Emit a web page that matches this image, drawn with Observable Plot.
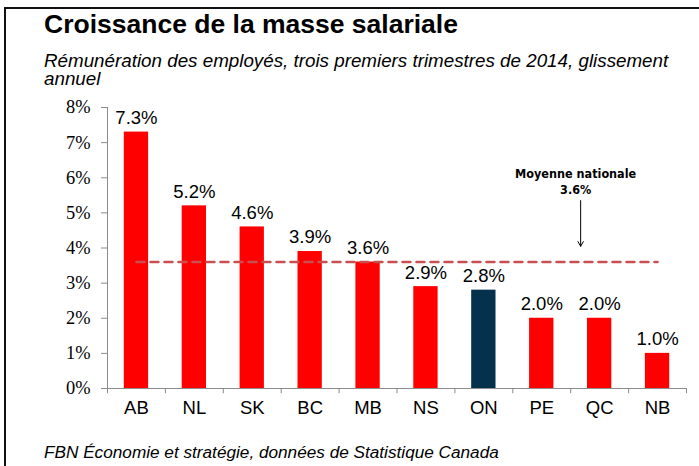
<!DOCTYPE html>
<html>
<head>
<meta charset="utf-8">
<script src="https://cdn.jsdelivr.net/npm/d3@7"></script>
<script src="https://cdn.jsdelivr.net/npm/@observablehq/plot@0.6"></script>
<style>
  html, body { margin: 0; padding: 0; background: #fff; }
  #wrap { position: relative; width: 699px; height: 466px; overflow: hidden; font-family: "Liberation Sans", Arial, sans-serif; }
  #frame { position: absolute; left: 4px; top: 7px; width: 720px; height: 480px; border-top: 2px solid #111; border-left: 2px solid #111; }
  #title { position: absolute; left: 44px; top: 8px; font-size: 26.5px; line-height: 32px; font-weight: bold; color: #000; white-space: nowrap; }
  #subtitle { position: absolute; left: 44px; top: 52px; width: 640px; font-size: 18.8px; line-height: 18px; font-style: italic; color: #000; }
  #caption { position: absolute; left: 44px; top: 442px; font-size: 17.2px; line-height: 20px; font-style: italic; color: #000; white-space: nowrap; }
  #chart { position: absolute; left: 0; top: 90px; }
</style>
</head>
<body>
<div id="wrap">
  <div id="frame"></div>
  <div id="title">Croissance de la masse salariale</div>
  <div id="subtitle">Rémunération des employés, trois premiers trimestres de 2014, glissement annuel</div>
  <div id="chart"></div>
  <div id="caption">FBN Économie et stratégie, données de Statistique Canada</div>
</div>
<script>
const categories = ["AB", "NL", "SK", "BC", "MB", "NS", "ON", "PE", "QC", "NB"];
const values = [7.3, 5.2, 4.6, 3.9, 3.6, 2.9, 2.8, 2.0, 2.0, 1.0];
const highlighted = ["ON"];
const nationalAverage = 3.6;
const yTicks = [0, 1, 2, 3, 4, 5, 6, 7, 8];
const annotationLines = ["Moyenne nationale", "3.6%"];

const data = categories.map((c, i) => ({cat: c, value: values[i]}));

const W = 699, H = 340, ML = 107, MR = 13, MT = 17, MB = 42;
const step = (W - ML - MR) / categories.length;

const chart = Plot.plot({
  width: W,
  height: H,
  marginLeft: ML,
  marginRight: MR,
  marginTop: MT,
  marginBottom: MB,
  style: {background: "transparent", overflow: "visible"},
  x: {domain: categories, paddingInner: 0.58, paddingOuter: 0.29, round: false, label: null},
  y: {domain: [0, 8], label: null},
  marks: [
    Plot.barY(data.filter(d => !highlighted.includes(d.cat)), {x: "cat", y: "value", fill: "#ff0000"}),
    Plot.barY(data.filter(d => highlighted.includes(d.cat)), {x: "cat", y: "value", fill: "#05314c"}),
    Plot.ruleY([0], {stroke: "#8c8c8c", strokeWidth: 1}),
    Plot.frame({anchor: "left", stroke: "#8c8c8c", strokeWidth: 1}),
    Plot.ruleX(categories, {x: d => d, y1: 0, y2: -0.15, dx: -step / 2, stroke: "#8c8c8c"}),
    Plot.ruleX(categories.slice(-1), {x: d => d, y1: 0, y2: -0.15, dx: step / 2, stroke: "#8c8c8c"}),
    Plot.axisY({ticks: yTicks, tickFormat: d => d + "%", tickSize: 6, tickPadding: 11, stroke: "#8c8c8c", fill: "#000",
      fontSize: 18.4, fontFamily: "Liberation Serif, Times New Roman, serif", label: null}),
    Plot.axisX({tickSize: 0, tickPadding: 12, fontSize: 18.5, fontFamily: "Liberation Sans, Arial, sans-serif", fill: "#000", label: null}),
    Plot.line(categories, {x: d => d, y: () => nationalAverage, stroke: "#c9504f", strokeWidth: 2.5, strokeDasharray: "8,6"}),
    Plot.text(data, {x: "cat", y: "value", text: d => d.value.toFixed(1) + "%", dy: -14, fontSize: 18.5,
      fontFamily: "Liberation Sans, Arial, sans-serif", fill: "#000"}),
    Plot.text([annotationLines.join("\n")], {x: () => "QC", y: () => 5.92, text: d => d, dx: -24, fontSize: 12.5, fontWeight: "bold",
      lineHeight: 1.35, fontFamily: "Liberation Sans Narrow, DejaVu Sans Condensed, Liberation Sans, sans-serif", fill: "#000"}),
    Plot.arrow([nationalAverage], {x1: () => "QC", x2: () => "QC", y1: () => 5.35, y2: () => 4.05, dx: -19,
      stroke: "#000", strokeWidth: 1, headLength: 8})
  ]
});
document.getElementById("chart").appendChild(chart);
</script>
</body>
</html>
